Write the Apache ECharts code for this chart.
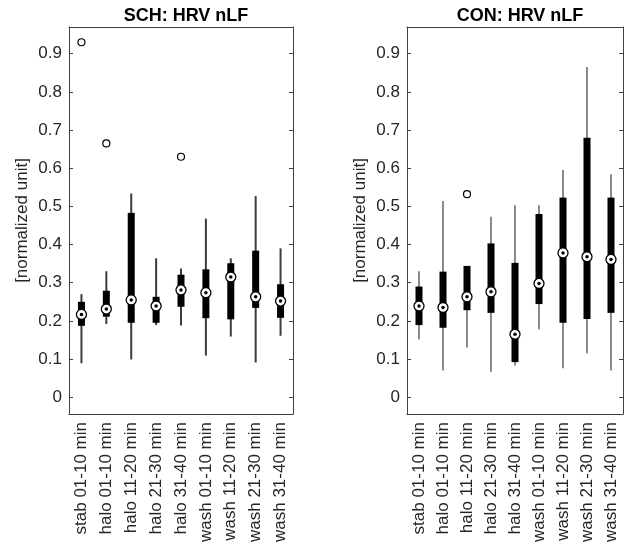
<!DOCTYPE html>
<html>
<head>
<meta charset="utf-8">
<script src="https://cdn.jsdelivr.net/npm/echarts@6/dist/echarts.min.js"></script>
<style>
  html, body { margin: 0; padding: 0; background: #fff; }
  #chart { width: 629px; height: 552px; }
</style>
</head>
<body>
<div id="chart"></div>
<script>
// recording segments (same for both panels)
const categories = [
  'stab 01-10 min', 'halo 01-10 min', 'halo 11-20 min', 'halo 21-30 min', 'halo 31-40 min',
  'wash 01-10 min', 'wash 11-20 min', 'wash 21-30 min', 'wash 31-40 min'
]
const yTicks = [0, 0.1, 0.2, 0.3, 0.4, 0.5, 0.6, 0.7, 0.8, 0.9]

// SCH group
const schMin = [0.089, 0.192, 0.099, 0.189, 0.188, 0.109, 0.159, 0.091, 0.161]
const schQ1  = [0.187, 0.211, 0.195, 0.195, 0.237, 0.207, 0.204, 0.234, 0.208]
const schMed = [0.217, 0.231, 0.255, 0.239, 0.281, 0.274, 0.315, 0.263, 0.252]
const schQ3  = [0.250, 0.279, 0.483, 0.263, 0.321, 0.335, 0.351, 0.384, 0.296]
const schMax = [0.270, 0.330, 0.534, 0.364, 0.337, 0.468, 0.364, 0.527, 0.390]
const schOutliers = [[0, 0.930], [1, 0.665], [4, 0.630]]

// CON group
const conMin = [0.152, 0.070, 0.130, 0.067, 0.083, 0.178, 0.076, 0.115, 0.070]
const conQ1  = [0.189, 0.182, 0.228, 0.221, 0.092, 0.244, 0.195, 0.205, 0.221]
const conMed = [0.239, 0.235, 0.263, 0.276, 0.165, 0.298, 0.378, 0.368, 0.361]
const conQ3  = [0.290, 0.329, 0.344, 0.403, 0.352, 0.480, 0.523, 0.680, 0.523]
const conMax = [0.330, 0.514, 0.344, 0.473, 0.503, 0.503, 0.595, 0.865, 0.584]
const conOutliers = [[2, 0.532]]

const font = '"Liberation Sans", Arial, sans-serif'
const textColor = '#262626'
const axisColor = '#404040'

const chart = echarts.init(document.getElementById('chart'))

function boxRenderer(whiskerColor) {
  return function (params, api) {
    const x = api.value(0)
    const lo = api.coord([x, api.value(1)])
    const q1 = api.coord([x, api.value(2)])
    const q3 = api.coord([x, api.value(4)])
    const hi = api.coord([x, api.value(5)])
    return {
      type: 'group',
      children: [
        { type: 'line', shape: { x1: lo[0], y1: lo[1], x2: hi[0], y2: hi[1] },
          style: { stroke: whiskerColor, lineWidth: 2 } },
        { type: 'rect', shape: { x: q1[0] - 3.5, y: q3[1], width: 7, height: q1[1] - q3[1] },
          style: { fill: '#000' } }
      ]
    }
  }
}

function boxData(mins, q1s, meds, q3s, maxs) {
  return mins.map((v, i) => [i, v, q1s[i], meds[i], q3s[i], maxs[i]])
}

function panelAxes(gridIndex) {
  const xa = [
    {
      type: 'category', gridIndex, position: 'bottom', data: categories,
      axisLine: { onZero: false, lineStyle: { color: axisColor, width: 1 } },
      axisTick: { inside: true, length: 4, alignWithLabel: true, lineStyle: { color: axisColor } },
      axisLabel: { rotate: 90, interval: 0, margin: 8, fontSize: 17, color: textColor, fontFamily: font }
    },
    {
      type: 'category', gridIndex, position: 'top', data: categories,
      axisLine: { onZero: false, lineStyle: { color: axisColor, width: 1 } },
      axisTick: { inside: true, length: 4, alignWithLabel: true, lineStyle: { color: axisColor } },
      axisLabel: { show: false }
    }
  ]
  const ya = [
    {
      type: 'value', gridIndex, position: 'left', min: -0.044, max: 0.97,
      name: '[normalized unit]', nameLocation: 'middle', nameGap: 38,
      nameTextStyle: { fontSize: 17, color: textColor, fontFamily: font },
      splitLine: { show: false },
      axisLine: { show: true, onZero: false, lineStyle: { color: axisColor, width: 1 } },
      axisTick: { show: true, inside: true, length: 4, customValues: yTicks, lineStyle: { color: axisColor } },
      axisLabel: { customValues: yTicks, margin: 7, fontSize: 17, color: textColor, fontFamily: font,
        formatter: (v) => String(Math.round(v * 10) / 10) }
    },
    {
      type: 'value', gridIndex, position: 'right', min: -0.044, max: 0.97,
      splitLine: { show: false },
      axisLine: { show: true, onZero: false, lineStyle: { color: axisColor, width: 1 } },
      axisTick: { show: true, inside: true, length: 4, customValues: yTicks, lineStyle: { color: axisColor } },
      axisLabel: { show: false }
    }
  ]
  return { xa, ya }
}

const p0 = panelAxes(0)
const p1 = panelAxes(1)

function panelSeries(panel, mins, q1s, meds, q3s, maxs, outliers, whiskerColor) {
  const xi = panel * 2
  const yi = panel * 2
  return [
    {
      type: 'custom', xAxisIndex: xi, yAxisIndex: yi,
      renderItem: boxRenderer(whiskerColor),
      encode: { x: 0, y: [1, 2, 3, 4, 5] },
      data: boxData(mins, q1s, meds, q3s, maxs),
      z: 2
    },
    {
      type: 'scatter', xAxisIndex: xi, yAxisIndex: yi,
      symbol: 'circle', symbolSize: 10,
      itemStyle: { color: '#fff', borderColor: '#000', borderWidth: 1.3, opacity: 1 },
      data: meds.map((v, i) => [i, v]), z: 3, silent: true
    },
    {
      type: 'scatter', xAxisIndex: xi, yAxisIndex: yi,
      symbol: 'circle', symbolSize: 3.5,
      itemStyle: { color: '#000', opacity: 1 },
      data: meds.map((v, i) => [i, v]), z: 4, silent: true
    },
    {
      type: 'scatter', xAxisIndex: xi, yAxisIndex: yi,
      symbol: 'circle', symbolSize: 7,
      itemStyle: { color: '#fff', borderColor: '#000', borderWidth: 1.2, opacity: 1 },
      data: outliers, z: 3, silent: true
    }
  ]
}

chart.setOption({
  animation: false,
  backgroundColor: '#fff',
  title: [
    { text: 'SCH: HRV nLF', left: 181, top: 2, textAlign: 'center',
      textStyle: { fontSize: 18, fontWeight: 'bold', color: '#000', fontFamily: font } },
    { text: 'CON: HRV nLF', left: 515, top: 2, textAlign: 'center',
      textStyle: { fontSize: 18, fontWeight: 'bold', color: '#000', fontFamily: font } }
  ],
  grid: [
    { left: 69, top: 27, width: 224, height: 387 },
    { left: 407, top: 27, width: 216, height: 387 }
  ],
  xAxis: [...p0.xa, ...p1.xa],
  yAxis: [...p0.ya, ...p1.ya],
  series: [
    ...panelSeries(0, schMin, schQ1, schMed, schQ3, schMax, schOutliers, '#3c3c3c'),
    ...panelSeries(1, conMin, conQ1, conMed, conQ3, conMax, conOutliers, '#8a8a8a')
  ]
})
</script>
</body>
</html>
